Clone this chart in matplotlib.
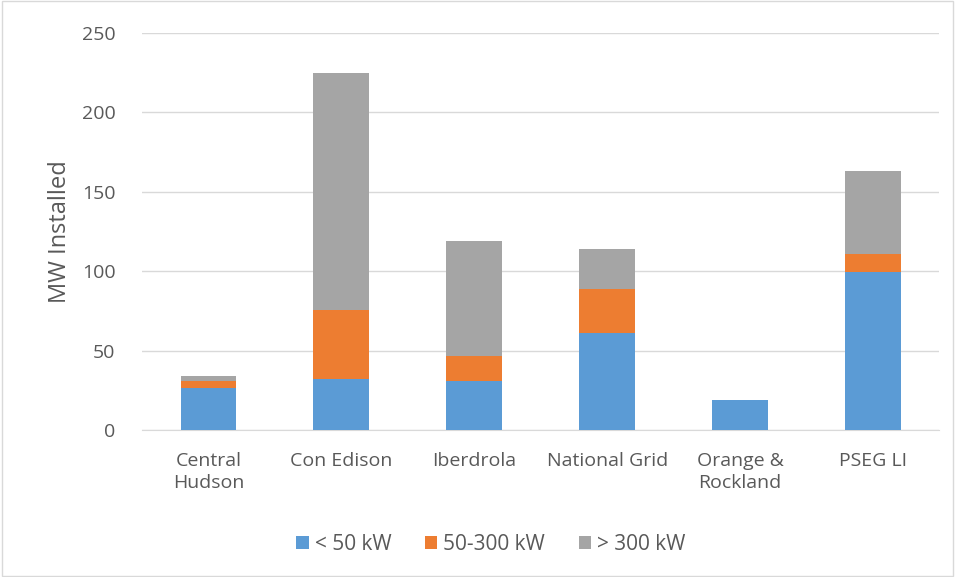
import matplotlib
matplotlib.use("Agg")
import matplotlib.pyplot as plt
import numpy as np

# utilities and installed MW by project size
utilities = ["Central\nHudson", "Con Edison", "Iberdrola", "National Grid", "Orange &\nRockland", "PSEG LI"]
small = [26.6, 32, 31, 61, 19, 99.7]      # < 50 kW
medium = [4.2, 43.5, 15.5, 28, 0, 11]     # 50-300 kW
large = [3.2, 149.5, 72.5, 25, 0, 52.6]   # > 300 kW

blue = "#5B9BD5"
orange = "#ED7D31"
gray = "#A5A5A5"
text_color = "#595959"

plt.rcParams['font.family'] = ['Open Sans', 'DejaVu Sans']

fig = plt.figure(figsize=(9.55, 5.77), dpi=100)
ax = fig.add_axes([0.1487, 0.2548, 0.835, 0.688])

x = np.arange(len(utilities))
w = 0.42
ax.bar(x, small, w, color=blue, label="< 50 kW", zorder=3)
ax.bar(x, medium, w, bottom=small, color=orange, label="50-300 kW", zorder=3)
bottom2 = np.array(small) + np.array(medium)
ax.bar(x, large, w, bottom=bottom2, color=gray, label="> 300 kW", zorder=3)

ax.set_xlim(-0.5, len(utilities) - 0.5)
ax.set_ylim(0, 250)
ax.set_yticks(range(0, 251, 50))
ax.set_xticks(x)
ax.set_xticklabels(utilities, linespacing=1.3)
ax.yaxis.grid(True, color="#D9D9D9", linewidth=1, zorder=0)
for s in ["top", "right", "left"]:
    ax.spines[s].set_visible(False)
ax.spines["bottom"].set_color("#D9D9D9")
ax.tick_params(axis="both", length=0, labelsize=14, colors=text_color)
ax.tick_params(axis="y", pad=19)
ax.tick_params(axis="x", pad=16)
ax.set_ylabel("MW Installed", fontsize=17, color=text_color, labelpad=7)

fig.legend(loc="center", bbox_to_anchor=(0.514, 0.057), ncol=3, frameon=False,
           fontsize=15, labelcolor=text_color, handlelength=0.6, handleheight=0.6,
           handletextpad=0.3, columnspacing=1.6)

# light frame round the figure
fig.patches.append(plt.Rectangle((0.002, 0.002), 0.996, 0.996, transform=fig.transFigure,
                                 fill=False, edgecolor="#D9D9D9", linewidth=1))

fig.savefig("out.png", dpi=100)
